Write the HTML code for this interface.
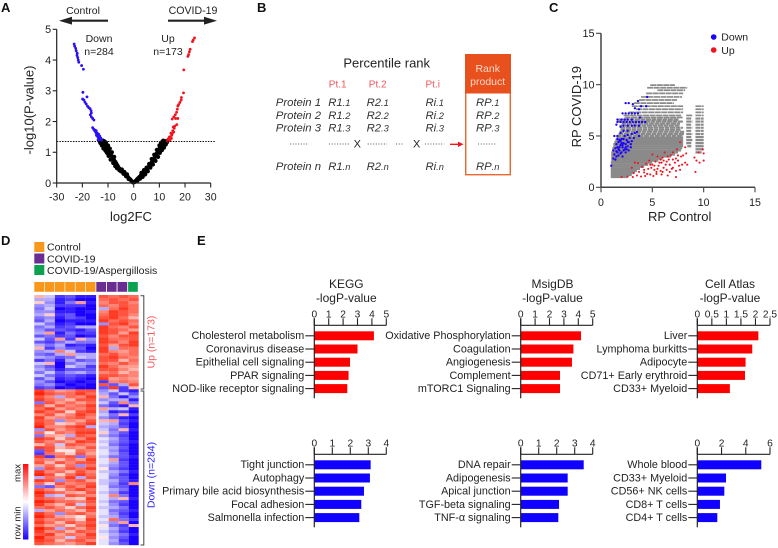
<!DOCTYPE html>
<html lang="en">
<head>
<meta charset="utf-8">
<title>Proteomics figure</title>
<style>
html,body{margin:0;padding:0;background:#fff;}
body{width:778px;height:548px;overflow:hidden;}
svg{display:block;font-family:"Liberation Sans",Arial,sans-serif;fill:#222;filter:blur(.35px);}
.it{font-style:italic;font-size:11.3px;fill:#333;}
.sm{font-size:9.3px;}
.pl{font-weight:bold;font-size:13px;fill:#111;}
</style>
</head>
<body>
<svg id="fig" width="778" height="548" viewBox="0 0 778 548" xmlns="http://www.w3.org/2000/svg">
<rect width="778" height="548" fill="#fff"/>

<text class="pl" x="1" y="12">A</text>
<text class="pl" x="257" y="12">B</text>
<text class="pl" x="549" y="12">C</text>
<text class="pl" x="1" y="245">D</text>
<text class="pl" x="197" y="245">E</text>

<!-- Panel A annotations -->
<g>
<text x="83" y="14" font-size="10.5" text-anchor="middle">Control</text>
<text x="193" y="14" font-size="10.6" text-anchor="middle">COVID-19</text>
<path d="M108 19.6H72V16.8L59 20.7L72 24.6V21.8H108Z" fill="#222"/>
<path d="M168 19.6H204V16.8L217 20.7L204 24.6V21.8H168Z" fill="#222"/>
<text x="99" y="42" font-size="10.5" text-anchor="middle">Down</text>
<text x="99" y="55" font-size="10.5" text-anchor="middle">n=284</text>
<text x="168" y="42" font-size="10.5" text-anchor="middle">Up</text>
<text x="168" y="55" font-size="10.5" text-anchor="middle">n=173</text>
<text x="131" y="221" font-size="13" text-anchor="middle">log2FC</text>
<text transform="translate(33.5,110) rotate(-90)" font-size="13" text-anchor="middle">-log10(P-value)</text>
</g>

<!-- Panel B -->
<g>
<text x="386.7" y="67.7" font-size="13" text-anchor="middle">Percentile rank</text>
<g font-size="10" fill="#f4565a" text-anchor="middle">
<text x="337.7" y="87.7">Pt.1</text>
<text x="377.7" y="87.7">Pt.2</text>
<text x="432.7" y="87.7">Pt.i</text>
</g>
<g text-anchor="end" class="it">
<text x="321" y="106">Protein 1</text>
<text x="321" y="119">Protein 2</text>
<text x="321" y="131.7">Protein 3</text>
<text x="321" y="170">Protein n</text>
</g>
<g text-anchor="middle" class="it">
<text x="339.3" y="106">R1<tspan class="sm">.1</tspan></text>
<text x="339.3" y="119">R1<tspan class="sm">.2</tspan></text>
<text x="339.3" y="131.7">R1<tspan class="sm">.3</tspan></text>
<text x="339.3" y="170">R1<tspan class="sm">.n</tspan></text>
<text x="377.7" y="106">R2<tspan class="sm">.1</tspan></text>
<text x="377.7" y="119">R2<tspan class="sm">.2</tspan></text>
<text x="377.7" y="131.7">R2<tspan class="sm">.3</tspan></text>
<text x="377.7" y="170">R2<tspan class="sm">.n</tspan></text>
<text x="434.7" y="106">Ri<tspan class="sm">.1</tspan></text>
<text x="434.7" y="119">Ri<tspan class="sm">.2</tspan></text>
<text x="434.7" y="131.7">Ri<tspan class="sm">.3</tspan></text>
<text x="434.7" y="170">Ri<tspan class="sm">.n</tspan></text>
<text x="487.7" y="106">RP<tspan class="sm">.1</tspan></text>
<text x="487.7" y="119">RP<tspan class="sm">.2</tspan></text>
<text x="487.7" y="131.7">RP<tspan class="sm">.3</tspan></text>
<text x="487.7" y="170">RP<tspan class="sm">.n</tspan></text>
</g>
<g stroke="#555" stroke-width="1" stroke-dasharray="1 1.7">
<line x1="290" x2="309" y1="144" y2="144"/>
<line x1="329" x2="349" y1="144" y2="144"/>
<line x1="367.7" x2="387" y1="144" y2="144"/>
<line x1="396" x2="403" y1="144" y2="144"/>
<line x1="425" x2="444.3" y1="144" y2="144"/>
<line x1="478" x2="497" y1="144" y2="144"/>
</g>
<text x="357.3" y="147.5" font-size="11" text-anchor="middle">X</text>
<text x="416.7" y="147.5" font-size="11" text-anchor="middle">X</text>
<path d="M450 143.6H458V141.6L463.5 144.3L458 147V145H450Z" fill="#f0141e"/>
<rect x="465.7" y="54.7" width="44.6" height="120" fill="none" stroke="#e8682f" stroke-width="1.4"/>
<rect x="465" y="54" width="46" height="39.5" fill="#e8501e"/>
<text x="487.7" y="72" font-size="10.5" fill="#fbd9c8" text-anchor="middle">Rank</text>
<text x="487.7" y="85" font-size="10.5" fill="#fbd9c8" text-anchor="middle">product</text>
</g>

<!-- Panel C labels -->
<g>
<text x="679.7" y="221" font-size="13" text-anchor="middle">RP Control</text>
<text transform="translate(581,106.7) rotate(-90)" font-size="13" text-anchor="middle">RP COVID-19</text>
<circle cx="713.7" cy="37" r="2.8" fill="#1a00ff"/>
<text x="721.3" y="40.6" font-size="10.5">Down</text>
<circle cx="713.7" cy="50" r="2.8" fill="#f0141e"/>
<text x="721.3" y="54.2" font-size="10.5">Up</text>
</g>

<!-- Panel D legend -->
<g>
<rect x="34.3" y="242" width="10" height="10" fill="#f7981d"/>
<text x="47" y="250.5" font-size="10.5">Control</text>
<rect x="34.3" y="253.5" width="10" height="10" fill="#6a2d91"/>
<text x="47" y="262.5" font-size="10.5">COVID-19</text>
<rect x="34.3" y="265" width="10" height="10" fill="#0aa14f"/>
<text x="47" y="274" font-size="10.5">COVID-19/Aspergillosis</text>
</g>
<defs>
<linearGradient id="rb" x1="0" y1="0" x2="0" y2="1">
<stop offset="0" stop-color="#ff0a0a"/><stop offset="0.5" stop-color="#ffffff"/><stop offset="1" stop-color="#1a00ff"/>
</linearGradient>
</defs>
<g>
<rect x="23" y="464" width="5.4" height="75.5" fill="url(#rb)"/>
<text transform="translate(20.5,473) rotate(-90)" font-size="9.5" text-anchor="middle">max</text>
<text transform="translate(20.5,523) rotate(-90)" font-size="9.5" text-anchor="middle">row min</text>
</g>
<g fill="none" stroke="#444" stroke-width="1">
<path d="M140.5 295.7H143.8V389H140.5"/>
<path d="M140.5 391H143.8V545H140.5"/>
</g>
<text transform="translate(154.5,342) rotate(-90)" font-size="10.5" fill="#f4565a" text-anchor="middle">Up (n=173)</text>
<text transform="translate(154.5,475) rotate(-90)" font-size="10.5" fill="#2a1cff" text-anchor="middle">Down (n=284)</text>

<g id="charts"></g>
</svg>

<script>
/* ---------- Panel A: volcano data ---------- */
const volcanoXTicks = [-30,-20,-10,0,10,20,30];
const volcanoYTicks = [0,1,2,3,4,5];
const volcanoThreshold = 1.35;
const volcanoDown = [[-23.2,4.52],[-23,4.45],[-22.6,4.38],[-22.4,4.3],[-22,4.22],[-22.1,4.15],[-21.8,4.08],[-21.6,4],[-21.4,3.93],[-20.3,3.82],[-19.6,3.7],[-19.8,2.95],[-19.9,2.73],[-19.4,2.7],[-18.2,2.8],[-19,2.63],[-18.5,2.57],[-18,2.5],[-17.5,2.45],[-17,2.42],[-16.6,2.35],[-16.5,2.28],[-16.9,2.22],[-16.5,2.15],[-16,2.1],[-15.5,2.05],[-16,1.8],[-15.6,1.75],[-15.2,1.7],[-14.8,1.65],[-14.5,1.6],[-14.2,1.62],[-14.5,1.55],[-13.6,1.58],[-14,1.5],[-13.2,1.52],[-13.7,1.45],[-12.8,1.46],[-13,1.4],[-12.5,1.4],[-15,1.72],[-14.6,1.7],[-14,1.6],[-13.4,1.42],[-13.9,1.4]];
const volcanoUp = [[23.7,4.72],[23.2,4.65],[22.9,4.6],[22,4.35],[21.7,4.27],[21.4,4.18],[21.1,4.12],[19.5,3.68],[19.4,2.93],[18.6,2.78],[18.5,2.7],[18,2.62],[17.5,2.55],[17.2,2.5],[17,2.4],[16.7,2.3],[16.2,2.22],[15.6,2.15],[15,2.08],[17.2,2.1],[16.3,2.1],[16.8,1.9],[16,1.85],[15.8,1.78],[15.2,1.7],[15.6,1.66],[15,1.6],[14.8,1.55],[14.2,1.5],[14.7,1.45],[13.7,1.42],[14.1,1.38],[13.2,1.36],[15.4,1.82],[14.5,1.62],[13.9,1.5],[13.4,1.44]];
const volcanoNsLeft = [[-0.3,.02],[-.8,.06],[-1.3,.11],[-1.8,.15],[-2.3,.2],[-2.8,.24],[-3.2,.28],[-3.7,.31],[-4.1,.34],[-4.5,.38],[-4.9,.41],[-5.3,.45],[-5.7,.48],[-6.1,.53],[-6.4,.58],[-6.8,.63],[-7.1,.68],[-7.5,.72],[-7.8,.77],[-8.2,.83],[-8.6,.88],[-9,.92],[-9.4,.98],[-9.8,1.04],[-10.2,1.1],[-10.6,1.15],[-11,1.21],[-11.4,1.26],[-11.8,1.3],[-12.3,1.34],[-12.8,1.35],[-7.6,.85],[-8.5,1],[-9.3,1.12],[-10,1.22],[-10.8,1.32],[-11.5,1.36],[-6.5,.48],[-7.2,.55],[-8,.65],[-9,.76],[-9.8,.88],[-10.4,.98],[-11,1.05],[-11.8,1.12],[-12.4,1.22],[-13,1.3],[-13.2,1.35],[-2,.13],[-3,.22],[-4,.3],[-5,.38],[-5.6,.42],[-4.6,.44],[-3.6,.36],[-2.6,.28],[-12,1.38],[-12.7,1.28],[-11.2,1.32]];
const volcanoNsRight = [[.3,.03],[.8,.07],[1.3,.12],[1.8,.16],[2.3,.2],[2.8,.25],[3.3,.29],[3.8,.32],[4.3,.37],[4.8,.42],[5.3,.47],[5.8,.52],[6.2,.57],[6.6,.62],[7,.67],[7.4,.72],[7.8,.77],[8.2,.83],[8.6,.9],[9,.96],[9.4,1.03],[9.8,1.08],[10.2,1.15],[10.7,1.2],[11.2,1.25],[11.6,1.3],[12.1,1.34],[12.8,1.35],[3.5,.2],[4.5,.28],[5.5,.38],[6.5,.5],[7.5,.6],[8.5,.72],[9.5,.85],[10.2,.98],[11,1.07],[11.8,1.15],[12.5,1.25],[13,1.33],[5,.5],[6,.62],[7,.78],[8,.92],[9,1.08],[10,1.22],[11,1.33],[2.5,.14],[3,.33],[4,.42],[1.5,.08],[11.5,1.38],[12.4,1.36],[10.6,1.3]];

/* ---------- Panel C: rank product scatter data ---------- */
const scatterTicks = [0,5,10,15];
const bandY =     [9.95,9.7,9.45,9.15,8.8,8.5,8.2,7.9,7.6,7.3,7,6.8,6.6,6.4,6.2,6,5.8,5.6,5.4,5.2,5,4.8,4.6,4.4,4.2,4,3.8,3.6,3.4,3.2,3,2.8,2.6,2.4,2.2,2,1.8,1.6,1.4,1.2,1];
const bandStart = [4.8,4.5,5.5,4.4,3.9,3.7,3.2,3,3.4,2.7,2.2,2.3,1.7,1.6,2,1.8,1.9,1.9,1.8,1.7,1.5,1.5,1.4,1.3,1.2,1.2,1.1,1.1,1,1,1,1,1,.95,.95,.95,.95,.95,.95,.95,.95];
const bandEnd =   [7.2,8.4,8.2,8,7.9,7.4,7.1,8,8,8,7.8,8,7.6,8,7.7,7.7,8,7.8,8.1,8.1,8,8,8,8,8,8,7.9,7.8,7.5,7.2,6.8,6,5.6,5,4.6,4.2,3.8,3.5,3.2,3,2.6];
const sideBandY =     [7.9,7.6,7.3,7,6.7,6.4,6.1,5.8,5.5,5.2,4.9,4.6,4.3,4,3.7,3.4,7,6.7,6.4,6.1,5.8,5.5,5.2,4.9,4.6,4.3,4];
const sideBandStart = [9.2,9.2,9.2,9.2,9.2,9.2,9.2,9.2,9.2,9.2,9.2,9.2,9.2,9.2,9.2,9.2,8.3,8.3,8.3,8.3,8.3,8.3,8.3,8.3,8.3,8.3,8.4];
const sideBandEnd =   [10,10,10,10,10,10,10,10,10,10,10,10,10,10,10,9.8,8.9,8.8,8.9,8.8,8.9,8.8,8.9,8.8,8.9,8.8,8.8];
const scatterDown = [[1,2.1],[1.2,2.8],[1.3,3.2],[1.4,2.7],[1.5,3.5],[1.6,3.9],[1.5,4.2],[1.7,3.1],[1.8,3.6],[1.9,4.1],[1.7,4.4],[2,3.4],[2.1,3.9],[2.2,4.3],[2,4.7],[2.3,3.7],[2.4,4.2],[2.5,4.6],[2.3,5],[2.6,4],[2.7,4.4],[2.8,4.8],[2.6,5.1],[2.9,3.9],[3,4.5],[3,5.2],[3.2,4.8],[3.3,5.3],[1.4,3.8],[1.8,4.6],[1.6,5],[1.9,5.3],[2.2,5.5],[2.6,5.5],[1.3,5],[2.1,3],[2.4,3.4],[1.6,3.4],[1.2,3.6],[2.7,3.6],[3.5,5.4],[3.7,5],[1.6,6.36],[1.9,6.36],[2.2,6.36],[2.5,6.36],[2.8,6.36],[3.1,6.36],[3.4,6.36],[3.7,6.36],[4,6.36],[4.3,6.36],[1.5,6.1],[1.9,5.9],[2.2,6],[2.6,6],[3,6],[3.3,6],[3.7,6],[1.6,6.6],[2,6.6],[2.3,6.6],[2.6,6.6],[3,6.6],[2.1,7.2],[2.4,7.2],[2.7,7.2],[3,7.2],[3.3,7.2],[3.6,7.2],[2.4,8.2],[2.7,8.2],[3.1,8.1],[3.6,8.4],[3.9,7.9],[4.4,7.9],[3.3,7.7],[3.7,7.6],[4.5,8.8],[3.8,6.8],[1.9,3.3],[2.2,3.6],[1.8,3.9],[2,4.3],[2.4,3.9],[2.6,4.4],[2.2,4.7],[1.7,3.7],[1.5,3],[2.9,4.2],[2.5,3.7],[2.1,4.1],[1.9,4.5],[1.6,4.7]];
const scatterUp = [[2,1],[2.6,1.05],[3.1,1],[3.5,1.15],[3.9,1.05],[4.3,1.1],[3.2,1.4],[3.7,1.5],[4.2,1.45],[4.8,1.25],[5.1,1.1],[5.4,1.3],[5.9,1.25],[6.5,1.15],[7.3,1],[7.7,1.7],[3.3,2.4],[3.6,2.35],[4.4,2.3],[4.7,2.6],[5,2.2],[5.3,2.5],[5.6,2.1],[5.9,2.4],[6.1,2.6],[6.4,2.5],[6.7,2.2],[7,2.7],[7.3,2.8],[7.5,3.1],[7.8,3],[8,3.1],[4.6,1.8],[4.9,1.9],[5.2,1.7],[5.5,1.8],[5.8,1.6],[6.1,1.9],[6.4,1.7],[6.7,1.5],[7,1.9],[7.3,1.6],[7.6,2.1],[7.9,2.2],[8.2,2.4],[8.4,2.2],[4,2],[4.2,1.7],[3,1.9],[5,3.2],[5.5,3],[6,2.9],[6.5,3],[7,3.4],[7.4,3.7],[7.7,4.4],[8.2,3.9],[8.3,3.3],[9.5,3.4],[9.9,3.7],[10,3.3],[9.3,2.6],[9.6,2.4],[10,2.6],[9.1,2.9],[9.2,1.5],[6.2,3.4],[5.8,2.7],[4.5,1.3],[6.9,1.8],[5.2,2.1],[5.7,2.4],[6.3,2.2],[6.6,2.7],[7.2,2.4],[4.8,2.2],[5.4,1.5],[6,1.5],[7.5,2.6],[6.8,3.1]];

/* ---------- Panel D: heatmap data (-9 blue .. +9 red) ---------- */
const annotationGroups = ["control","control","control","control","control","control","covid","covid","covid","aspergillosis"];
const heatUpRows = [
[3,-2,-7,-6,-8,-8,7,6,7,6],[-3,-3,-8,-7,-9,-9,6,7,6,7],[2,-4,-8,-5,4,-8,5,7,7,5],[-4,-3,-7,-7,-7,-9,6,5,7,6],
[-5,-2,-9,-8,-9,-9,-3,6,8,6],[-4,-4,-8,-8,-9,-8,5,8,7,6],[-3,2,-7,-6,-9,-9,6,8,7,5],[-5,-4,-8,-6,-7,-9,7,8,6,3],
[-6,-3,-9,-8,-8,-8,8,6,7,6],[-2,-5,-8,-7,-9,-9,-4,7,8,5],[-5,-3,-7,-6,-3,-3,8,6,5,7],[-4,-6,-6,-7,-8,-6,8,7,6,4],
[-3,4,-8,-5,-7,-7,8,7,4,8],[-6,-5,-7,-6,-9,-8,7,5,7,7],[-2,-6,4,-7,3,-4,8,6,6,7],[-6,-7,-5,-3,-5,-5,8,7,5,8],
[-3,-5,-3,-8,-7,-8,7,4,7,8],[3,-7,-4,-6,-6,-9,8,-3,6,6],[-4,-3,5,-2,-7,-8,8,5,4,6],[-5,-6,-3,4,-3,-3,6,7,5,6],
[-3,-4,-6,-5,-2,-3,7,8,6,5],[-7,-5,-8,-3,-6,-5,7,7,3,6],[-2,3,-9,-5,-3,-4,6,5,7,5],[-4,-6,-9,-2,-4,-7,8,6,4,4],
[-3,-5,-8,-6,-6,-6,7,7,5,3],[-5,-2,-6,-4,-3,-5,5,6,3,5],[-2,-5,-7,-6,-7,-8,7,7,6,5],[-6,-3,-8,-7,-8,-9,8,4,5,4],
[-4,-6,-9,-8,-9,-8,-7,5,6,5],[-5,-4,-7,-9,-8,-9,7,-6,-3,7],[-7,-6,-9,-8,-9,-9,-6,8,-7,3]];
const heatDownRows = [
[8,6,4,5,7,7,-4,-2,-7,-8],[9,7,6,6,8,6,-3,-6,-2,-6],[7,5,-3,6,5,8,3,-5,-8,-4],[8,6,5,3,7,7,-4,-3,-3,-8],
[-5,7,4,6,4,6,-2,-6,5,-5],[7,3,7,5,6,8,-5,-7,-8,3],[6,8,4,6,5,7,4,-3,-2,-8],[8,6,7,2,7,8,-3,-8,-7,-9],
[5,7,3,5,8,6,-2,-5,3,-7],[8,4,5,6,7,5,-4,-6,-8,-9],[7,6,-4,5,4,7,3,4,-6,-8],[8,6,2,3,6,8,-2,-3,-7,-9],
[9,5,5,7,8,-3,-3,-4,-6,-9],[-4,7,4,6,7,7,-2,-5,3,-8],[6,1,6,5,8,8,2,-4,-6,-9],[-5,4,3,-3,7,6,-3,-5,-7,-9],
[8,7,2,6,5,8,-1,-3,-6,-9],[7,5,6,4,8,7,-2,-4,-6,-8],[3,6,-2,7,6,5,-1,-5,-7,-9],[8,7,3,5,4,7,-2,-3,-6,-9],
[-6,7,1,1,6,5,-1,-4,-7,-9],[-7,6,5,2,7,4,-1,-3,-6,-9],[8,-7,6,7,-5,6,-2,-5,-6,-8],[6,5,3,6,4,8,-1,4,-7,-9],
[7,3,7,5,7,7,-1,-3,-6,-9],[4,6,2,6,-4,6,-2,-4,-6,-9],[-4,7,5,7,6,8,1,-5,-7,-9],[8,5,6,3,7,5,-2,-3,-5,-8],
[9,7,2,6,8,6,-1,-4,-7,-9],[-3,6,5,8,-3,7,-1,-5,-6,-9],[8,7,-4,6,7,4,-2,-3,-6,-8],[6,2,7,5,6,7,-2,-4,-7,5],
[-5,-6,5,7,5,8,-1,-5,-6,-9],[7,5,2,6,8,6,-1,-3,-5,-9],[9,7,6,4,3,7,-2,-4,-7,-9],[8,-3,-2,7,6,5,-1,5,-5,-9],
[7,6,5,3,2,8,-1,-3,3,-8],[9,8,6,6,5,7,-2,-5,-6,-9],[8,5,3,7,-2,6,-1,-4,-7,-9],[6,7,5,2,6,8,-2,-3,-5,-9],
[-3,4,6,5,3,7,-1,-5,-6,-8],[8,6,-4,6,7,5,-1,-4,-7,-9],[9,7,4,3,1,6,-2,-3,-6,-9],[7,5,6,5,2,8,-1,6,-5,-7],
[8,6,3,7,5,7,-2,-4,4,-9],[6,4,5,2,6,8,1,-5,-7,3],[9,7,-3,6,4,7,-1,-3,-6,-9],[8,5,6,3,7,6,-2,-4,-7,-9],
[7,8,4,6,5,8,-1,-3,-5,-8],[9,6,5,-2,6,7,1,-4,-6,-9],[8,7,3,6,7,5,-1,-3,-7,-9],[7,6,5,4,6,8,-1,-4,-6,-9]];

/* ---------- Panel E: enrichment bar data ---------- */
const keggUpLabels = ["Cholesterol metabolism","Coronavirus disease","Epithelial cell signaling","PPAR signaling","NOD-like receptor signaling"];
const keggUpValues = [4.14,3.0,2.48,2.38,2.29];
const keggUpTicks = [0,1,2,3,4,5];
const keggDownLabels = ["Tight junction","Autophagy","Primary bile acid biosynthesis","Focal adhesion","Salmonella infection"];
const keggDownValues = [3.13,3.09,2.76,2.61,2.5];
const keggDownTicks = [0,1,2,3,4];
const msigUpLabels = ["Oxidative Phosphorylation","Coagulation","Angiogenesis","Complement","mTORC1 Signaling"];
const msigUpValues = [4.19,3.66,3.56,2.73,2.73];
const msigUpTicks = [0,1,2,3,4,5];
const msigDownLabels = ["DNA repair","Adipogenesis","Apical junction","TGF-beta signaling","TNF-α signaling"];
const msigDownValues = [3.5,2.61,2.61,2.13,2.09];
const msigDownTicks = [0,1,2,3,4];
const atlasUpLabels = ["Liver","Lymphoma burkitts","Adipocyte","CD71+ Early erythroid","CD33+ Myeloid"];
const atlasUpValues = [2.1,1.89,1.66,1.64,1.12];
const atlasUpTicks = [0,0.5,1,1.5,2,2.5];
const atlasDownLabels = ["Whole blood","CD33+ Myeloid","CD56+ NK cells","CD8+ T cells","CD4+ T cells"];
const atlasDownValues = [5.28,2.37,2.23,1.87,1.65];
const atlasDownTicks = [0,2,4,6];

const NS = "http://www.w3.org/2000/svg";
const root = document.getElementById("charts");
function mk(tag, attrs, parent) {
  const el = document.createElementNS(NS, tag);
  for (const k in attrs) el.setAttribute(k, attrs[k]);
  parent.appendChild(el);
  return el;
}
function linear(d0, d1, r0, r1) { return v => r0 + (v - d0) * (r1 - r0) / (d1 - d0); }

function axisX(parent, ticks, scale, y, len, tickName, labelBaseline, size, stroke) {
  ticks.forEach(t => {
    const tick = mk("line", {x1: scale(t), x2: scale(t), y1: y, y2: y + len, stroke: stroke, "stroke-width": 1.1}, parent);
    
    
    const lab = mk("text", {x: scale(t), y: labelBaseline, "font-size": size, "text-anchor": "middle"}, parent);
    
    
    lab.textContent = t;
  });
}
function axisY(parent, ticks, scale, x, len, size, stroke) {
  ticks.forEach(t => {
    const tick = mk("line", {x1: x - len, x2: x, y1: scale(t), y2: scale(t), stroke: stroke, "stroke-width": 1.1}, parent);
    
    
    const lab = mk("text", {x: x - len - 1.5, y: scale(t) + 3.8, "font-size": size, "text-anchor": "end"}, parent);
    
    
    lab.textContent = t;
  });
}
function axisLine(parent, x1, y1, x2, y2, w, stroke) {
  const l = mk("line", {x1, y1, x2, y2, stroke, "stroke-width": w}, parent);
  
  
}

/* Panel A */
function drawVolcano() {
  const g = mk("g", {}, root);
  
  
  const sx = linear(-30, 30, 56.7, 210.7);
  const sy = linear(0, 5, 183, 29.3);
  const series = (pts, color, r) => pts.forEach(p => {
    const c = mk("circle", {cx: sx(p[0]), cy: sy(p[1]), r: r, fill: color}, g);
    
    
  });
  series(volcanoNsLeft, "#000", 2.1);
  series(volcanoNsRight, "#000", 2.1);
  series(volcanoDown, "#2a10f5", 1.4);
  series(volcanoUp, "#f0141e", 1.4);
  const th = mk("line", {x1: sx(-30), x2: 215, y1: sy(volcanoThreshold), y2: sy(volcanoThreshold), stroke: "#111", "stroke-width": 1, "stroke-dasharray": "1.5 1.2"}, g);
  
  
  axisLine(g, sx(-30), sy(0), sx(30), sy(0), 1.2, "#222");
  axisLine(g, sx(-30), sy(0), sx(-30), sy(5), 1.2, "#222");
  axisX(g, volcanoXTicks, sx, 183, 4.5, 'x', 200.5, 10.6, "#222");
  axisY(g, volcanoYTicks, sy, 56.7, 4, 10.8, "#222");
}

/* Panel C */
function drawScatter() {
  const g = mk("g", {}, root);
  
  
  const sx = linear(0, 15, 601, 755);
  const sy = linear(0, 15, 187.3, 33.3);
  const band = (y, a, b) => {
    const top = y > 6.7;
    const mid = y > 4.9;
    const l = mk("line", {x1: sx(a), x2: sx(b), y1: sy(y), y2: sy(y), stroke: "#8a8a8a", "stroke-width": top ? 1.7 : (mid ? 2.1 : 2.3), "stroke-dasharray": top ? "6 .5" : (mid ? "5 .5" : "none")}, g);
    
    
  };
  bandY.forEach((y, i) => band(y, bandStart[i], bandEnd[i]));
  sideBandY.forEach((y, i) => band(y, sideBandStart[i], sideBandEnd[i]));
  scatterDown.forEach(p => {
    const c = mk("circle", {cx: sx(p[0]), cy: sy(p[1]), r: 1.15, fill: "#1a00ff"}, g);
    
    
  });
  scatterUp.forEach(p => {
    const c = mk("circle", {cx: sx(p[0]), cy: sy(p[1]), r: 1.05, fill: "#f0141e"}, g);
    
    
  });
  axisLine(g, sx(0), sy(0), sx(15), sy(0), 1.5, "#444");
  axisLine(g, sx(0), sy(0), sx(0), sy(15), 1.5, "#444");
  axisX(g, scatterTicks, sx, 187.3, 5, 'x', 206, 10.6, "#444");
  axisY(g, scatterTicks, sy, 601, 5, 10.8, "#444");
}

/* Panel D */
function heatColor(v) {
  const t = Math.min(1, Math.abs(v) / 9);
  const target = v >= 0 ? [255, 34, 8] : [26, 0, 255];
  const c = target.map(ch => Math.round(255 + (ch - 255) * t));
  return "rgb(" + c.join(",") + ")";
}
function heatX(i) { return i < 6 ? 34.3 + i * 10.3 : 98.7 + (i - 6) * 10; }
function heatW(i) { return i < 6 ? 10.3 : 10; }
function drawHeatmap() {
  const g = mk("g", {}, root);
  
  
  const groupColor = {control: "#f7981d", covid: "#6a2d91", aspergillosis: "#0aa14f"};
  annotationGroups.forEach((name, i) => {
    const r = mk("rect", {x: i < 6 ? heatX(i) : 96.3 + (i - 6) * 10.6, y: 282, width: 9.7, height: 9.8, fill: groupColor[name]}, g);
    
    
  });
  const block = (rows, top, bottom, name) => {
    const h = (bottom - top) / rows.length;
    rows.forEach((row, ri) => row.forEach((v, ci) => {
      const r = mk("rect", {x: heatX(ci), y: top + ri * h, width: heatW(ci), height: h + 0.2, fill: heatColor(v)}, g);
      
      
    }));
  };
  block(heatUpRows, 295, 389.3, 'heatmap-cell-up');
  block(heatDownRows, 389.3, 545, 'heatmap-cell-down');
}

/* Panel E */
function drawBars(opts) {
  const g = mk("g", {}, root);
  
  
  const max = opts.ticks[opts.ticks.length - 1];
  const sx = linear(0, max, opts.x0, opts.x1);
  opts.values.forEach((v, i) => {
    const cy = opts.axisY + 10.5 + i * 13.2;
    const bar = mk("rect", {x: opts.x0, y: cy - 4.5, width: sx(v) - opts.x0, height: 9, fill: opts.color}, g);
    
    
    const tick = mk("line", {x1: opts.x0 - 9, x2: opts.x0, y1: cy, y2: cy, stroke: "#222", "stroke-width": 1.1}, g);
    
    
    const lab = mk("text", {x: opts.x0 - 10, y: cy + 3.4, "font-size": 10.8, "text-anchor": "end"}, g);
    
    
    lab.textContent = opts.labels[i];
  });
  opts.ticks.forEach(t => {
    const tick = mk("line", {x1: sx(t), x2: sx(t), y1: opts.axisY - 7, y2: opts.axisY, stroke: "#222", "stroke-width": 1.1}, g);
    
    
    const lab = mk("text", {x: sx(t), y: opts.axisY - 8, "font-size": 10.2, "text-anchor": "middle"}, g);
    
    
    lab.textContent = t;
  });
  axisLine(g, opts.x0, opts.axisY, opts.x1, opts.axisY, 1.2, "#222");
  axisLine(g, opts.x0, opts.axisY - 7, opts.x0, opts.axisY + 73, 1.2, "#222");
  if (opts.title) {
    const cx = opts.titleX;
    const t1 = mk("text", {x: cx, y: 288, "font-size": 12, "text-anchor": "middle"}, g);
    
    
    t1.textContent = opts.title;
    const t2 = mk("text", {x: cx, y: 302, "font-size": 12, "text-anchor": "middle"}, g);
    
    
    t2.textContent = "-logP-value";
  }
}

drawVolcano();
drawScatter();
drawHeatmap();
const RED = "#ff0000", BLUE = "#0f00ff";
drawBars({name:"kegg-up-bars", x0:314.3, x1:386.3, axisY:325.3, ticks:keggUpTicks, labels:keggUpLabels, values:keggUpValues, color:RED, title:"KEGG", titleX:346.3});
drawBars({name:"kegg-down-bars", x0:314.3, x1:386.3, axisY:454.3, ticks:keggDownTicks, labels:keggDownLabels, values:keggDownValues, color:BLUE});
drawBars({name:"msigdb-up-bars", x0:520.7, x1:592.7, axisY:325.3, ticks:msigUpTicks, labels:msigUpLabels, values:msigUpValues, color:RED, title:"MsigDB", titleX:552.5});
drawBars({name:"msigdb-down-bars", x0:520.7, x1:592.7, axisY:454.3, ticks:msigDownTicks, labels:msigDownLabels, values:msigDownValues, color:BLUE});
drawBars({name:"cell-atlas-up-bars", x0:697.3, x1:770, axisY:325.3, ticks:atlasUpTicks, labels:atlasUpLabels, values:atlasUpValues, color:RED, title:"Cell Atlas", titleX:730});
drawBars({name:"cell-atlas-down-bars", x0:697.3, x1:770, axisY:454.3, ticks:atlasDownTicks, labels:atlasDownLabels, values:atlasDownValues, color:BLUE});
</script>
</body>
</html>
